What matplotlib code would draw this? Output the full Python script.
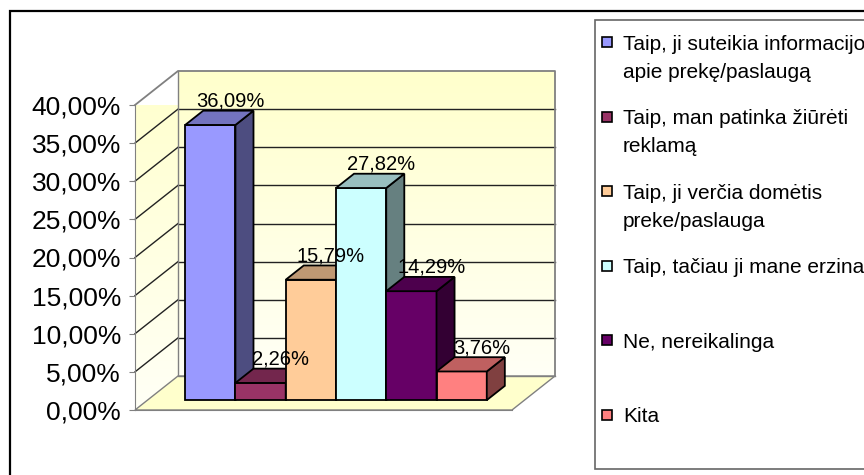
import numpy as np
import matplotlib
matplotlib.use("Agg")
import matplotlib.pyplot as plt
from matplotlib.patches import Polygon, Rectangle
from matplotlib.colors import to_rgb
from matplotlib.ticker import FuncFormatter

plt.rcParams['font.family'] = ['Liberation Sans', 'DejaVu Sans']

# atsakymai ir procentai
atsakymai = ["Taip, ji suteikia informacijos\napie prekę/paslaugą",
             "Taip, man patinka žiūrėti\nreklamą",
             "Taip, ji verčia domėtis\npreke/paslauga",
             "Taip, tačiau ji mane erzina",
             "Ne, nereikalinga",
             "Kita"]
procentai = [36.09, 2.26, 15.79, 27.82, 14.29, 3.76]
spalvos = ["#9999FF", "#993366", "#FFCC99", "#CCFFFF", "#660066", "#FF8080"]
y_ticks = [0, 5, 10, 15, 20, 25, 30, 35, 40]

W, H = 864, 475
fig = plt.figure(figsize=(W / 100, H / 100), dpi=100)

def fpx(x, y):
    # pikseliai -> figuros koordinates
    return x / W, 1 - y / H

ax = fig.add_axes([135 / W, (H - 410) / H, 377 / W, 305 / H])
x0, x1 = -1.25, 6.25
ymax = 40
ax.set_xlim(x0, x1)
ax.set_ylim(0, ymax)

# gylis (3D efektas) duomenu vienetais
dx = 43 / (377 / (x1 - x0))
dy = 34 / (305 / ymax)
f0, f1 = 0.29, 0.71   # stulpeliu priekis ir galas

def sviesiau(c, k):
    r, g, b = to_rgb(c)
    return (r * k, g * k, b * k)

# sienos su gradientu
grad = np.linspace(0, 1, 256).reshape(-1, 1)
virsus = np.array(to_rgb("#FFFFCC"))
apacia = np.array(to_rgb("#FFFFF6"))
img = apacia + (virsus - apacia) * grad[..., None]
img = img.reshape(256, 1, 3)

im = ax.imshow(img, extent=[x0 + dx, x1 + dx, dy, ymax + dy], origin="lower",
               aspect="auto", zorder=0, interpolation="bilinear")
im.set_clip_on(False)

siena = Polygon([(x0, 0), (x0 + dx, dy), (x0 + dx, ymax + dy), (x0, ymax)],
                closed=True, facecolor="none", edgecolor="none")
ax.add_patch(siena)
siena.set_clip_on(False)
im2 = ax.imshow(img, extent=[x0, x0 + dx, 0, ymax + dy], origin="lower",
                aspect="auto", zorder=0, interpolation="bilinear")
im2.set_clip_box(None)
im2.set_clip_path(siena)

grindys = Polygon([(x0, 0), (x1, 0), (x1 + dx, dy), (x0 + dx, dy)], closed=True,
                  facecolor="#FFFFCC", edgecolor="#808080", lw=1, zorder=1)
grindys.set_clip_on(False)
ax.add_patch(grindys)

# tinklelis ant sienu
for v in y_ticks[1:-1]:
    ax.plot([x0 + dx, x1 + dx], [v + dy, v + dy], color="#222222", lw=1, zorder=1, clip_on=False)
    ax.plot([x0, x0 + dx], [v, v + dy], color="#222222", lw=1, zorder=1, clip_on=False)

# sienu kontūrai
ax.plot([x0, x0 + dx, x1 + dx, x1 + dx], [ymax, ymax + dy, ymax + dy, dy],
        color="#808080", lw=1.3, zorder=1, clip_on=False)
ax.plot([x0 + dx, x0 + dx, x1 + dx], [ymax + dy, dy, dy],
        color="#808080", lw=1, zorder=1, clip_on=False)

# stulpeliai
gx = f0 * dx
gy = f0 * dy
ddx = (f1 - f0) * dx
ddy = (f1 - f0) * dy
xs = np.arange(len(procentai))
for i, v in enumerate(procentai):
    z = 3 + i
    ax.bar(xs[i] + gx, v, width=1, bottom=gy, color=spalvos[i], edgecolor="black",
           lw=1.3, zorder=z, clip_on=False)
    xl = xs[i] + gx - 0.5
    xr = xs[i] + gx + 0.5
    yt = gy + v
    sonas = Polygon([(xr, gy), (xr + ddx, gy + ddy), (xr + ddx, yt + ddy), (xr, yt)],
                    closed=True, facecolor=sviesiau(spalvos[i], 0.5),
                    edgecolor="black", lw=1.3, zorder=z, clip_on=False)
    ax.add_patch(sonas)
    stogas = Polygon([(xl, yt), (xr, yt), (xr + ddx, yt + ddy), (xl + ddx, yt + ddy)],
                     closed=True, facecolor=sviesiau(spalvos[i], 0.75),
                     edgecolor="black", lw=1.3, zorder=z, clip_on=False)
    ax.add_patch(stogas)

# reikšmės virš stulpeliu
for i, v in enumerate(procentai):
    ax.annotate(f"{v:.2f}%".replace(".", ","), (xs[i] + gx + ddx * 1.1, gy + v + ddy),
                xytext=(0, 3), textcoords="offset points", ha="center", va="baseline",
                fontsize=14.5, zorder=20, annotation_clip=False)

# ašys
for s in ["top", "right"]:
    ax.spines[s].set_visible(False)
ax.spines["left"].set_color("#808080")
ax.spines["bottom"].set_color("#808080")
ax.spines["left"].set_zorder(2)
ax.set_xticks([])
ax.set_yticks(y_ticks)
ax.yaxis.set_major_formatter(FuncFormatter(lambda v, p: f"{v:.2f}%".replace(".", ",")))
ax.tick_params(axis="y", length=4, color="#808080", labelsize=19, pad=6)
ax.patch.set_visible(False)

# legenda
lx, ly = fpx(595, 469)
lx2, ly2 = fpx(870, 20)
fig.add_artist(Rectangle((lx, ly), lx2 - lx, ly2 - ly, transform=fig.transFigure,
                         facecolor="white", edgecolor="#666666", lw=1.2, zorder=0))
for i, tekstas in enumerate(atsakymai):
    y = 42 + 74.6 * i
    mx, my = fpx(602, y + 5)
    fig.add_artist(Rectangle((mx, my), 10 / W, 10 / H, transform=fig.transFigure,
                             facecolor=spalvos[i], edgecolor="black", lw=1.2))
    for j, eil in enumerate(tekstas.split("\n")):
        tx, ty = fpx(623, y + 28 * j)
        fig.text(tx, ty, eil, fontsize=15, ha="left", va="center_baseline")

# rėmelis aplink visa diagrama
rx, ry = fpx(10, 500)
rx2, ry2 = fpx(900, 11)
fig.add_artist(Rectangle((rx, ry), rx2 - rx, ry2 - ry, transform=fig.transFigure,
                         fill=False, edgecolor="black", lw=1.6))

fig.savefig("out.png", dpi=100)
